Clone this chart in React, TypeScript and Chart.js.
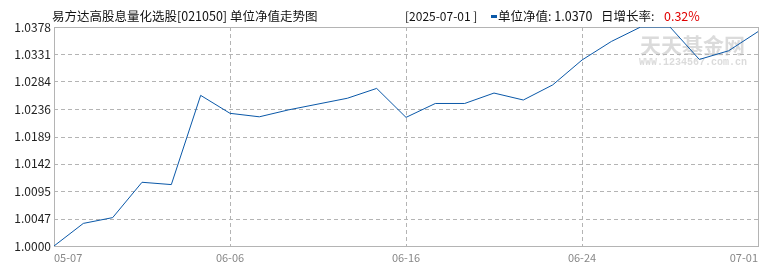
import React, { useEffect, useRef } from "react";
import { Chart, registerables } from "chart.js";

Chart.register(...registerables);

const dates = [
  "05-07", "05-09", "05-16", "05-23", "05-30", "06-05", "06-06", "06-09", "06-10",
  "06-11", "06-12", "06-13", "06-16", "06-17", "06-18", "06-19", "06-20", "06-23",
  "06-24", "06-25", "06-26", "06-27", "06-28", "06-30", "07-01",
];
const navValues = [
  1.0000, 1.0039, 1.0049, 1.0110, 1.0106, 1.0260, 1.0229, 1.0223, 1.0235,
  1.0245, 1.0255, 1.0272, 1.0222, 1.0246, 1.0246, 1.0264, 1.0252, 1.0278,
  1.0321, 1.0353, 1.0378, 1.0378, 1.0322, 1.0337, 1.0370,
];
const yTickValues = [1.0000, 1.0047, 1.0095, 1.0142, 1.0189, 1.0236, 1.0284, 1.0331, 1.0378];
const xLabelIndexes = [0, 6, 12, 18, 24];

const titleText = "易方达高股息量化选股[021050] 单位净值走势图";
const dateText = "[2025-07-01 ]";
const navText = "单位净值: 1.0370";
const growthLabel = "日增长率: ";
const growthValue = "0.32%";

const LINE_COLOR = "#0a58a8";
const GRID_COLOR = "#b4b4b4";
const FONT = '"Noto Sans CJK SC", "DejaVu Sans", sans-serif';

const decorPlugin = {
  id: "decor",
  beforeDatasetsDraw(chart: any) {
    const { ctx, chartArea, scales } = chart;
    ctx.save();
    // watermark
    ctx.fillStyle = "rgba(190,190,190,0.55)";
    ctx.font = `bold 21px ${FONT}`;
    ctx.textBaseline = "middle";
    ctx.textAlign = "left";
    ctx.fillText("天天基金网", 640, 45);
    ctx.font = 'bold 10px "Liberation Mono", monospace';
    ctx.fillText("WWW.1234567.com.cn", 639, 62);
    // dashed grid
    ctx.strokeStyle = GRID_COLOR;
    ctx.lineWidth = 1;
    ctx.setLineDash([4, 3]);
    for (let i = 1; i < yTickValues.length - 1; i++) {
      const y = Math.round(scales.y.getPixelForValue(yTickValues[i])) + 0.5;
      ctx.beginPath();
      ctx.moveTo(chartArea.left, y);
      ctx.lineTo(chartArea.right, y);
      ctx.stroke();
    }
    for (const idx of xLabelIndexes) {
      if (idx === 0 || idx === dates.length - 1) continue;
      const x = Math.round(scales.x.getPixelForValue(idx)) + 0.5;
      ctx.beginPath();
      ctx.moveTo(x, chartArea.top);
      ctx.lineTo(x, chartArea.bottom);
      ctx.stroke();
    }
    ctx.setLineDash([]);
    // border
    ctx.strokeRect(
      Math.round(chartArea.left) + 0.5,
      Math.round(chartArea.top) + 0.5,
      Math.round(chartArea.right - chartArea.left),
      Math.round(chartArea.bottom - chartArea.top)
    );
    ctx.restore();
  },
  afterDraw(chart: any) {
    const { ctx } = chart;
    ctx.save();
    ctx.textBaseline = "middle";
    ctx.textAlign = "left";
    ctx.fillStyle = "#111";
    ctx.font = `12.5px ${FONT}`;
    ctx.fillText(titleText, 52, 16);
    ctx.font = `12px ${FONT}`;
    ctx.fillText(dateText, 405, 16);
    ctx.fillStyle = LINE_COLOR;
    ctx.fillRect(491, 15, 6, 3);
    ctx.fillStyle = "#111";
    ctx.font = `12.5px ${FONT}`;
    ctx.fillText(navText, 498, 16);
    ctx.fillText(growthLabel, 601, 16);
    ctx.fillStyle = "#e00000";
    ctx.fillText(growthValue, 664, 16);
    ctx.restore();
  },
};

export default function App() {
  const canvasRef = useRef<HTMLCanvasElement | null>(null);

  useEffect(() => {
    const canvas = canvasRef.current;
    if (!canvas) return;
    const chart = new Chart(canvas, {
      type: "line",
      data: {
        labels: dates,
        datasets: [
          {
            data: navValues,
            borderColor: LINE_COLOR,
            borderWidth: 1,
            pointRadius: 0,
            tension: 0,
            fill: false,
          },
        ],
      },
      options: {
        animation: false,
        responsive: false,
        maintainAspectRatio: false,
        layout: { padding: { top: 27, right: 12, left: 0, bottom: 0 } },
        plugins: {
          legend: { display: false },
          tooltip: { enabled: false },
        },
        scales: {
          x: {
            type: "category",
            offset: false,
            grid: { display: false, drawTicks: false },
            border: { display: false },
            ticks: {
              autoSkip: false,
              maxRotation: 0,
              align: "inner",
              padding: 5,
              color: "#888",
              font: { family: FONT, size: 11 },
              callback: (_v: any, i: number) => (xLabelIndexes.includes(i) ? dates[i] : ""),
            },
            afterFit: (s: any) => {
              s.height = 24;
            },
          } as any,
          y: {
            min: yTickValues[0],
            max: yTickValues[yTickValues.length - 1],
            afterBuildTicks: (s: any) => {
              s.ticks = yTickValues.map((v) => ({ value: v }));
            },
            afterFit: (s: any) => {
              s.width = 54;
            },
            grid: { display: false, drawTicks: false },
            border: { display: false },
            ticks: {
              padding: 3,
              color: "#222",
              font: { family: FONT, size: 12 },
              callback: (v: any) => Number(v).toFixed(4),
            },
          } as any,
        },
      },
      plugins: [decorPlugin],
    });
    return () => chart.destroy();
  }, []);

  return (
    <div style={{ position: "fixed", left: 0, top: 0, width: 770, height: 270, background: "#fff" }}>
      <canvas ref={canvasRef} width={770} height={270} style={{ width: 770, height: 270 }} />
    </div>
  );
}
